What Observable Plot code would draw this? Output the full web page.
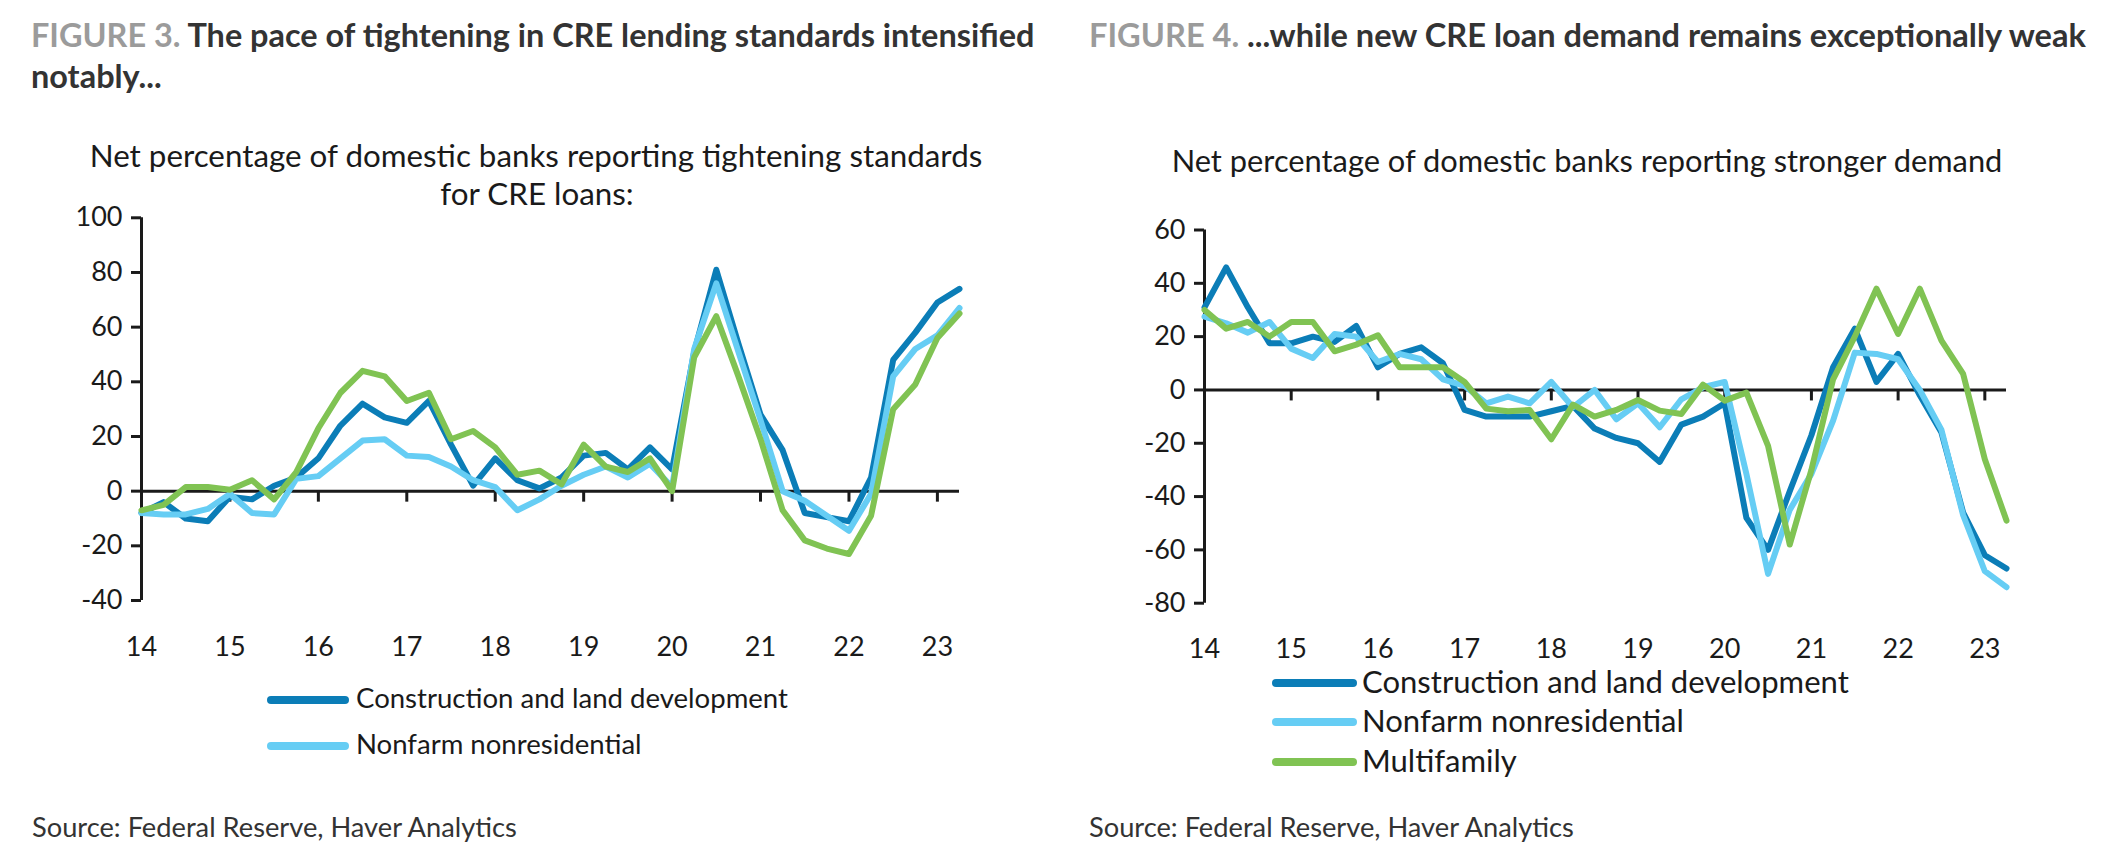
<!DOCTYPE html>
<html><head><meta charset="utf-8">
<script src="https://cdn.jsdelivr.net/npm/d3@7"></script>
<script src="https://cdn.jsdelivr.net/npm/@observablehq/plot@0.6"></script>
<style>
html,body{margin:0;padding:0;background:#fff;}
#root{position:relative;width:2108px;height:860px;overflow:hidden;font-family:Lato,"Noto Sans",sans-serif;color:#1a1a1a;background:#fff;}
.t{position:absolute;left:0;top:0;white-space:nowrap;line-height:1.2;}
.sw{position:absolute;height:8px;border-radius:4px;}
#root svg{position:absolute;top:0;}
</style></head><body><div id="root"></div><script>
// ---------------- data ----------------
const quarters = ["2014Q1","2014Q2","2014Q3","2014Q4","2015Q1","2015Q2","2015Q3","2015Q4",
  "2016Q1","2016Q2","2016Q3","2016Q4","2017Q1","2017Q2","2017Q3","2017Q4",
  "2018Q1","2018Q2","2018Q3","2018Q4","2019Q1","2019Q2","2019Q3","2019Q4",
  "2020Q1","2020Q2","2020Q3","2020Q4","2021Q1","2021Q2","2021Q3","2021Q4",
  "2022Q1","2022Q2","2022Q3","2022Q4","2023Q1","2023Q2"];
const yearTicks = [2014,2015,2016,2017,2018,2019,2020,2021,2022,2023];
const yearLabels = ["14","15","16","17","18","19","20","21","22","23"];
const seriesNames = ["Construction and land development","Nonfarm nonresidential","Multifamily"];
const seriesColors = ["#0b7db7","#66cdf4","#80c353"];

// Figure 3: net % tightening standards
const stdConstruction = [-8,-4,-10,-11,-2,-3,2,5,12,24,32,27,25,33,17,2,12,4,1,5,13,14,8,16,8,51,81,54,28,15,-8,-9.5,-11,5,48,58,69,74];
const stdNonfarm = [-8,-8.5,-8.5,-6.5,-1,-8,-8.5,4.5,5.5,12,18.5,19,13,12.5,9,4,1.5,-7,-3,2,6,9,5,10,1.5,52,76,51,26,0,-3.5,-9,-14.5,-1,42,52,57,67];
const stdMultifamily = [-7,-5,1.5,1.5,0.5,4,-3,7,23,36,44,42,33,36,19,22,16,6,7.5,2.5,17,9,7,12,0,49,64,42,19,-7,-18,-21,-23,-9,30,39,56,65];
const stdTicks = [-40,-20,0,20,40,60,80,100];

// Figure 4: net % stronger demand
const demConstruction = [31,46,31,17.5,17.5,20,18,24,8.5,13.5,16,10,-7.5,-10,-10,-10,-8,-6,-14.5,-18,-20,-27,-13,-10,-5,-48,-60,-38,-17,8.5,23,3,13.5,-2,-16,-46,-62,-67];
const demNonfarm = [27.5,25,21.5,25.5,15.5,12,21,20,10.5,13.5,11.5,4,1.5,-5,-2.5,-5,3,-6.5,0,-11,-5,-14,-3.5,1,3,-31.5,-69,-45,-31.5,-11.5,14,13.5,11.5,0,-15,-47,-68,-74];
const demMultifamily = [30,23,25.5,20,25.5,25.5,14.5,17,20.5,8.5,8.5,8.5,3,-7,-8,-7.5,-18.5,-5.5,-10,-7.5,-3.75,-7.75,-9,2,-4,-1,-21,-58,-30,4,20,38,21,38,18.5,6,-26,-49];
const demTicks = [-80,-60,-40,-20,0,20,40,60];

const title3Tag = "FIGURE 3.";
const title3Line1 = "The pace of tightening in CRE lending standards intensified";
const title3Line2 = "notably...";
const title4Tag = "FIGURE 4.";
const title4Text = "...while new CRE loan demand remains exceptionally weak";
const sub3Line1 = "Net percentage of domestic banks reporting tightening standards";
const sub3Line2 = "for CRE loans:";
const sub4 = "Net percentage of domestic banks reporting stronger demand";
const sourceText = "Source: Federal Reserve, Haver Analytics";

// ---------------- helpers ----------------
const ink = "#1a1a1a";
const root = document.getElementById("root");
const toYear = q => +q.slice(0,4) + (+q.slice(5) - 1) / 4;
const rows = vals => quarters.map((q, i) => ({x: toYear(q), y: vals[i]}));

function chart(opts) {
  const {values, yDomain, yTicks, ml, mr, mt, mb} = opts;
  return Plot.plot({
    width: 1054, height: 700,
    marginLeft: ml, marginRight: mr, marginTop: mt, marginBottom: mb,
    style: {fontFamily: "Lato, 'Noto Sans', sans-serif", color: ink, background: "transparent", overflow: "visible"},
    x: {domain: [toYear(quarters[0]), toYear(quarters[quarters.length - 1])]},
    y: {domain: yDomain},
    marks: [
      Plot.ruleY([0], {stroke: ink, strokeWidth: 3}),
      Plot.ruleX(yearTicks.slice(1), {x: d => d, y1: 0, y2: 0, insetBottom: -11, stroke: ink, strokeWidth: 3}),
      Plot.ruleX([yearTicks[0]], {stroke: ink, strokeWidth: 3}),
      ...values.map((v, k) => Plot.line(rows(v), {x: "x", y: "y", stroke: seriesColors[k], strokeWidth: 6})),
      Plot.axisY({ticks: yTicks, tickSize: 10, tickPadding: 9, fontSize: 27, strokeWidth: 3, label: null, tickFormat: d => String(d)}),
      Plot.axisX({ticks: yearTicks, tickFormat: d => yearLabels[yearTicks.indexOf(d)], tickSize: 0, tickPadding: 36, fontSize: 27, label: null})
    ]
  });
}

const left = chart({values: [stdConstruction, stdNonfarm, stdMultifamily], yDomain: [-40, 100], yTicks: stdTicks,
  ml: 141, mr: 95, mt: 217.3, mb: 100});
left.style.left = "0px";
root.appendChild(left);

const right = chart({values: [demConstruction, demNonfarm, demMultifamily], yDomain: [-80, 60], yTicks: demTicks,
  ml: 150, mr: 102, mt: 229.5, mb: 97.3});
right.style.left = "1054px";
root.appendChild(right);

function place(html, o) {
  const d = document.createElement("div");
  d.className = "t";
  let size = o.size || 20;
  d.style.fontSize = size + "px";
  d.style.fontWeight = o.weight || 400;
  d.style.color = o.color || ink;
  d.innerHTML = html;
  const m = document.createElement("span");
  m.style.cssText = "display:inline-block;width:0;height:0;vertical-align:baseline";
  d.appendChild(m);
  root.appendChild(d);
  if (o.fit) {
    const w = d.getBoundingClientRect().width;
    size = size * o.fit / w;
    d.style.fontSize = size + "px";
  }
  const r = d.getBoundingClientRect();
  const mr = m.getBoundingClientRect();
  d.style.top = (o.baseline - (mr.top - r.top)) + "px";
  d.style.left = (o.anchor === "middle" ? o.x - r.width / 2 : o.x) + "px";
  return size;
}
function swatch(x, w, cy, color) {
  const s = document.createElement("div");
  s.className = "sw";
  s.style.left = x + "px"; s.style.width = w + "px"; s.style.top = (cy - 4) + "px"; s.style.background = color;
  root.appendChild(s);
}

// titles
const tagSpan = t => `<span style="color:#9b9b9b">${t}</span> `;
const ts = place(tagSpan(title3Tag) + title3Line1, {x: 31, baseline: 46.5, weight: 700, fit: 1004, color: "#333"});
place(title3Line2, {x: 31, baseline: 88, weight: 700, size: ts, color: "#333"});
place(tagSpan(title4Tag) + title4Text, {x: 1089, baseline: 46.5, weight: 700, fit: 997, color: "#333"});

// subtitles
const ss = place(sub3Line1, {x: 536, baseline: 166.5, fit: 893, anchor: "middle"});
place(sub3Line2, {x: 537, baseline: 205, size: ss, anchor: "middle"});
place(sub4, {x: 1587, baseline: 172, fit: 831, anchor: "middle"});

// legends
swatch(267, 82, 700, seriesColors[0]);
swatch(267, 82, 745.7, seriesColors[1]);
const ls = place(seriesNames[0], {x: 356, baseline: 708, fit: 432});
place(seriesNames[1], {x: 356, baseline: 754, size: ls});

const rb = [682.5, 722, 761.7];
const rs = place(seriesNames[0], {x: 1362, baseline: 693, fit: 487});
seriesNames.forEach((n, k) => {
  swatch(1272, 85, rb[k], seriesColors[k]);
  if (k > 0) place(n, {x: 1362, baseline: rb[k] + 10.3, size: rs});
});

// sources
place(sourceText, {x: 32, baseline: 836.5, fit: 485, color: "#333"});
place(sourceText, {x: 1089, baseline: 836.5, fit: 485, color: "#333"});
</script></body></html>
